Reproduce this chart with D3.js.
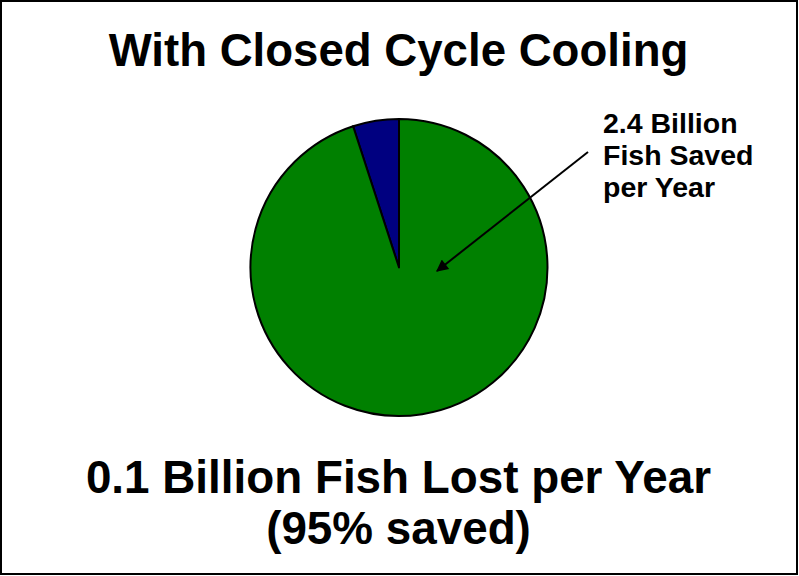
<!DOCTYPE html>
<html>
<head>
<meta charset="utf-8">
<script src="https://cdn.jsdelivr.net/npm/d3@7"></script>
<style>
html,body{margin:0;padding:0;background:#fff;}
svg{display:block;}
text{font-family:"Liberation Sans",Arial,Helvetica,sans-serif;font-weight:bold;fill:#000;}
</style>
</head>
<body>
<svg id="chart" width="799" height="576"></svg>
<script>
const categories = ["Fish Lost", "Fish Saved"];
const values = [5, 95];
const colors = ["#000080", "#008000"];
const titleText = "With Closed Cycle Cooling";
const calloutLines = ["2.4 Billion", "Fish Saved", "per Year"];
const footerLines = ["0.1 Billion Fish Lost per Year", "(95% saved)"];

const svg = d3.select("#chart");
const W = 799, H = 576;

svg.append("rect").attr("x", 1).attr("y", 1).attr("width", W - 3).attr("height", H - 3)
  .attr("fill", "#fff").attr("stroke", "#000").attr("stroke-width", 2);

svg.append("text").attr("x", 398.5).attr("y", 66).attr("text-anchor", "middle")
  .style("font-size", "45.6px").text(titleText);

const cx = 399, cy = 267.5, r = 148.5;
const data = categories.map((c, i) => ({cat: c, v: values[i], color: colors[i]}));
// blue slice counterclockwise from 12 o'clock, green the rest
const total = d3.sum(values);
const pie = d3.pie().value(d => d.v).sort(null)
  .startAngle(-2 * Math.PI * values[0] / total)
  .endAngle(2 * Math.PI - 2 * Math.PI * values[0] / total);
const arc = d3.arc().innerRadius(0).outerRadius(r);
const g = svg.append("g").attr("transform", `translate(${cx},${cy})`);
g.selectAll("path").data(pie(data)).join("path")
  .attr("d", arc).attr("fill", d => d.data.color)
  .attr("stroke", "#000").attr("stroke-width", 2).attr("stroke-linejoin", "round");

// arrow
const defs = svg.append("defs");
defs.append("marker").attr("id", "ah").attr("viewBox", "0 0 10 10")
  .attr("refX", 9).attr("refY", 5).attr("markerWidth", 7).attr("markerHeight", 6)
  .attr("markerUnits", "strokeWidth").attr("orient", "auto")
  .append("path").attr("d", "M0,0 L10,5 L0,10 z").attr("fill", "#000");
svg.append("line").attr("x1", 588).attr("y1", 152).attr("x2", 437).attr("y2", 271)
  .attr("stroke", "#000").attr("stroke-width", 2).attr("marker-end", "url(#ah)");

const ct = svg.append("text").style("font-size", "28.5px");
calloutLines.forEach((l, i) => ct.append("tspan").attr("x", 603).attr("y", 133 + i * 32).text(l));

const ft = svg.append("text").attr("text-anchor", "middle").style("font-size", "45.8px");
footerLines.forEach((l, i) => ft.append("tspan").attr("x", 398.5).attr("y", 493 + i * 51).text(l));
</script>
</body>
</html>
